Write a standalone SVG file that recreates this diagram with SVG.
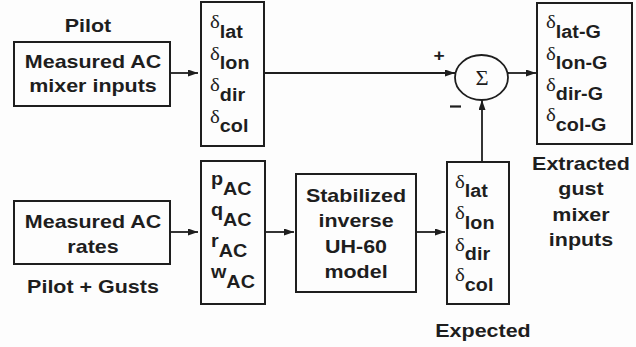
<svg xmlns="http://www.w3.org/2000/svg" width="636" height="347" viewBox="0 0 636 347">
<style>
.box{fill:none;stroke:#1e1e1e;stroke-width:2}
.t{font-family:"Liberation Sans",Arial,sans-serif;font-weight:bold;font-size:19px;fill:#1e1e1e}
.m{text-anchor:middle}
.d{font-family:"Liberation Serif","Times New Roman",serif;font-weight:normal;font-size:18.5px}
.s{font-family:"Liberation Sans",Arial,sans-serif;font-weight:bold;font-size:17.5px}
.sig{font-family:"Liberation Serif","Times New Roman",serif;font-size:20px;fill:#1e1e1e;text-anchor:middle}
.c{fill:none;stroke:#1e1e1e;stroke-width:1.8;marker-end:url(#ah)}
</style>
<defs>
<marker id="ah" markerUnits="userSpaceOnUse" markerWidth="11" markerHeight="8" refX="10" refY="3.5" orient="auto">
<path d="M0,0 L10,3.5 L0,7 z" fill="#1e1e1e"/>
</marker>
</defs>
<rect width="636" height="347" fill="#fdfdfd"/>

<g id="pilot-input">
<rect class="box" x="14" y="42" width="156" height="64"/>
<text class="t m" transform="translate(88,32) scale(1.13,1)">Pilot</text>
<text class="t m" transform="translate(93,68) scale(1.13,1)">Measured AC<tspan x="0" dy="24">mixer inputs</tspan></text>
</g>

<g id="mixer-deltas">
<rect class="box" x="201" y="2" width="63" height="144"/>
<text class="t" transform="translate(210,28) scale(1.13,1)"><tspan class="d">δ</tspan><tspan class="s" dy="9.5">lat</tspan></text>
<text class="t" transform="translate(210,59.5) scale(1.13,1)"><tspan class="d">δ</tspan><tspan class="s" dy="9.5">lon</tspan></text>
<text class="t" transform="translate(210,91) scale(1.13,1)"><tspan class="d">δ</tspan><tspan class="s" dy="9.5">dir</tspan></text>
<text class="t" transform="translate(210,122.5) scale(1.13,1)"><tspan class="d">δ</tspan><tspan class="s" dy="9.5">col</tspan></text>
</g>

<g id="ac-rates">
<rect class="box" x="14" y="201" width="156" height="63"/>
<text class="t m" transform="translate(93,228) scale(1.13,1)">Measured AC<tspan x="0" dy="25">rates</tspan></text>
<text class="t m" transform="translate(93,293) scale(1.13,1)">Pilot + Gusts</text>
</g>

<g id="rates-vars">
<rect class="box" x="201" y="161" width="64" height="143"/>
<text class="t" transform="translate(211,185) scale(1.13,1)"><tspan class="s">p</tspan><tspan class="s" dy="10">AC</tspan></text>
<text class="t" transform="translate(211,216) scale(1.13,1)"><tspan class="s">q</tspan><tspan class="s" dy="10">AC</tspan></text>
<text class="t" transform="translate(211,247) scale(1.13,1)"><tspan class="s">r</tspan><tspan class="s" dy="10">AC</tspan></text>
<text class="t" transform="translate(211,278) scale(1.13,1)"><tspan class="s">w</tspan><tspan class="s" dy="10">AC</tspan></text>
</g>

<g id="inverse-model">
<rect class="box" x="296" y="174" width="120" height="118"/>
<text class="t m" transform="translate(356,202) scale(1.13,1)">Stabilized<tspan x="0" dy="25.3">inverse</tspan><tspan x="0" dy="25.3">UH-60</tspan><tspan x="0" dy="25.3">model</tspan></text>
</g>

<g id="expected-deltas">
<rect class="box" x="447" y="162" width="62" height="142"/>
<text class="t" transform="translate(455,187.5) scale(1.13,1)"><tspan class="d">δ</tspan><tspan class="s" dy="9.5">lat</tspan></text>
<text class="t" transform="translate(455,219) scale(1.13,1)"><tspan class="d">δ</tspan><tspan class="s" dy="9.5">lon</tspan></text>
<text class="t" transform="translate(455,250.5) scale(1.13,1)"><tspan class="d">δ</tspan><tspan class="s" dy="9.5">dir</tspan></text>
<text class="t" transform="translate(455,281) scale(1.13,1)"><tspan class="d">δ</tspan><tspan class="s" dy="9.5">col</tspan></text>
<text class="t m" transform="translate(483,337) scale(1.13,1)">Expected</text>
</g>

<g id="sum">
<ellipse cx="481.5" cy="77.5" rx="26.5" ry="22.5" fill="none" stroke="#1e1e1e" stroke-width="1.8"/>
<text class="sig" transform="translate(482,85) scale(1.13,1)">Σ</text>
<text class="t m" style="font-size:17px" transform="translate(439,61) scale(1.13,1)">+</text>
<path d="M450,106.5 H461" stroke="#1e1e1e" stroke-width="2.2"/>
</g>

<g id="gust-deltas">
<rect class="box" x="537" y="3" width="95" height="141"/>
<text class="t" transform="translate(546,28) scale(1.13,1)"><tspan class="d">δ</tspan><tspan class="s" dy="9.5">lat-G</tspan></text>
<text class="t" transform="translate(546,59.5) scale(1.13,1)"><tspan class="d">δ</tspan><tspan class="s" dy="9.5">lon-G</tspan></text>
<text class="t" transform="translate(546,90.5) scale(1.13,1)"><tspan class="d">δ</tspan><tspan class="s" dy="9.5">dir-G</tspan></text>
<text class="t" transform="translate(546,121) scale(1.13,1)"><tspan class="d">δ</tspan><tspan class="s" dy="9.5">col-G</tspan></text>
<text class="t m" transform="translate(581,170) scale(1.13,1)">Extracted<tspan x="0" dy="25.5">gust</tspan><tspan x="0" dy="25.5">mixer</tspan><tspan x="0" dy="25.5">inputs</tspan></text>
</g>

<g id="connectors">
<path class="c" d="M170,73 H198"/>
<path class="c" d="M264,73 H455"/>
<path class="c" d="M508,73 H536"/>
<path class="c" d="M482,162 V100"/>
<path class="c" d="M170,232 H198"/>
<path class="c" d="M265,232 H294"/>
<path class="c" d="M416,232 H445"/>
</g>
</svg>
